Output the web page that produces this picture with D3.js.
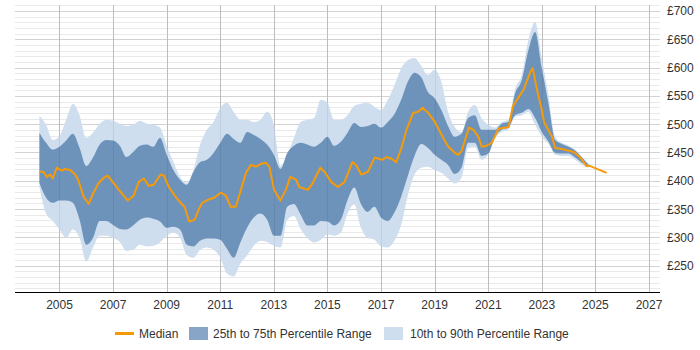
<!DOCTYPE html>
<html><head><meta charset="utf-8">
<script src="https://cdn.jsdelivr.net/npm/d3@7"></script>
<style>body{margin:0;background:#fff}svg{display:block}text{font-family:"Liberation Sans",Arial,sans-serif;font-size:12px;fill:#333}</style>
</head><body><svg id="c" width="700" height="350"></svg>
<script>
const xTicks = [2005,2007,2009,2011,2013,2015,2017,2019,2021,2023,2025,2027];
const yTicks = [250,300,350,400,450,500,550,600,650,700];
const yTickLabels = ["£250","£300","£350","£400","£450","£500","£550","£600","£650","£700"];
const legendLabels = ["Median","25th to 75th Percentile Range","10th to 90th Percentile Range"];

const bandYears = [2004.25,2004.5,2004.75,2005,2005.25,2005.5,2005.75,2006,2006.25,2006.5,
2006.75,2007,2007.25,2007.5,2007.75,2008,2008.25,2008.5,2008.75,2009,
2009.25,2009.5,2009.75,2010,2010.25,2010.5,2010.75,2011,2011.25,2011.5,
2011.75,2012,2012.25,2012.5,2012.75,2013,2013.25,2013.5,2013.75,2014,
2014.25,2014.5,2014.75,2015,2015.25,2015.5,2015.75,2016,2016.25,2016.5,
2016.75,2017,2017.25,2017.5,2017.75,2018,2018.25,2018.5,2018.75,2019,
2019.25,2019.5,2019.75,2020,2020.25,2020.5,2020.75,2021,2021.25,2021.5,
2021.75,2022,2022.25,2022.5,2022.75,2023,2023.25,2023.5,2023.75,2024,
2024.25,2024.5,2024.75];

const p90 = [515,499,472,479,508,536,516,476,485,501,
508,506,501,497,499,506,501,499,494,462,
433,407,396,419,464,490,504,529,538,522,
508,508,504,508,522,499,426,446,476,504,
508,511,543,538,508,508,516,532,536,538,
531,525,543,569,599,613,617,603,587,596,
575,522,495,486,522,534,511,499,494,504,
508,562,587,649,681,617,550,478,467,462,
455,442,430];

const p75 = [485,467,455,460,471,483,458,426,441,464,
472,471,462,442,451,462,464,460,476,446,
419,402,393,416,433,437,449,467,483,474,
467,486,481,474,464,446,421,449,462,467,
464,460,467,478,462,469,485,502,495,497,
501,494,504,518,543,575,591,583,557,546,
525,497,478,483,511,516,490,490,490,501,
504,554,578,631,663,599,536,472,465,460,
453,441,428];

const p25 = [396,370,361,365,365,361,331,287,299,329,
329,322,315,314,321,331,335,333,328,317,
319,314,287,284,294,298,298,296,280,264,
291,317,335,342,331,303,303,354,359,340,
321,321,329,328,321,331,366,388,359,345,
354,335,329,344,372,409,444,465,458,446,
437,428,412,423,467,467,444,448,478,490,
494,516,520,527,511,486,469,449,448,448,
441,432,425];

const p10 = [389,342,329,314,299,314,299,257,282,303,
303,299,292,276,278,287,284,285,291,303,
308,299,269,264,278,282,278,264,236,231,
254,268,285,294,292,285,282,331,338,315,
299,291,296,305,303,308,342,358,317,299,
296,284,282,294,322,374,411,423,425,419,
414,404,395,405,458,460,437,446,474,486,
490,513,516,522,499,478,465,446,444,444,
437,428,423];

const medianYears = [2004.25,2004.40,2004.52,2004.65,2004.75,2004.90,2005.09,2005.21,2005.40,2005.59,
2005.71,2005.90,2006.09,2006.27,2006.46,2006.65,2006.80,2007.02,2007.27,2007.55,
2007.77,2007.96,2008.15,2008.33,2008.52,2008.77,2008.90,2009.08,2009.33,2009.58,
2009.67,2009.84,2010.04,2010.21,2010.33,2010.52,2010.77,2011.02,2011.21,2011.39,
2011.58,2011.77,2011.96,2012.14,2012.33,2012.52,2012.70,2012.83,2013.01,2013.24,
2013.45,2013.61,2013.83,2013.95,2014.27,2014.45,2014.73,2014.89,2015.14,2015.39,
2015.64,2015.93,2016.07,2016.26,2016.51,2016.76,2017.05,2017.20,2017.39,2017.57,
2017.76,2017.95,2018.20,2018.39,2018.55,2018.76,2019.01,2019.26,2019.51,2019.76,
2019.88,2020.01,2020.28,2020.45,2020.63,2020.76,2020.94,2021.13,2021.38,2021.76,
2021.92,2022.32,2022.57,2022.66,2022.82,2023.00,2023.08,2023.38,2023.50,2023.75,
2024.19,2024.44,2024.67,2024.81,2025.42];

const medianValues = [416,416,407,411,404,423,418,421,419,411,
400,372,359,379,396,405,409,396,381,365,
374,398,404,391,393,411,409,389,372,358,
354,328,331,351,361,366,370,379,374,354,
354,384,414,428,425,430,432,425,384,365,
384,407,402,389,384,396,423,416,398,389,
398,433,428,411,416,441,437,442,439,433,
458,490,520,522,529,520,504,481,460,449,
446,453,494,490,478,460,462,467,492,495,
532,561,592,599,561,525,504,478,458,456,
451,441,426,426,414];

(function () {
const plotL = 15, plotR = 660, plotT = 5, plotB = 292;
const svg = d3.select("#c");
const x = d3.scaleLinear().domain([2003.34, 2027.41]).range([plotL, plotR]);
const y = d3.scaleLinear().domain([203.5, 710.6]).range([plotB, plotT]);

const gridG = svg.append("g");
const minor = d3.range(210, 711, 10).filter(v => v % 50 !== 0);
gridG.selectAll("line.minor").data(minor).join("line")
  .attr("x1", plotL).attr("x2", plotR)
  .attr("y1", d => Math.round(y(d)) + 0.5).attr("y2", d => Math.round(y(d)) + 0.5)
  .attr("stroke", "#e9e9e9").attr("stroke-width", 1);
gridG.selectAll("line.major").data(yTicks).join("line")
  .attr("x1", plotL).attr("x2", plotR)
  .attr("y1", d => Math.round(y(d)) + 0.5).attr("y2", d => Math.round(y(d)) + 0.5)
  .attr("stroke", "#d2d2d2").attr("stroke-width", 1);
gridG.selectAll("line.vert").data(xTicks).join("line")
  .attr("x1", d => Math.round(x(d)) + 0.5).attr("x2", d => Math.round(x(d)) + 0.5)
  .attr("y1", plotT).attr("y2", plotB)
  .attr("stroke", "#cccccc").attr("stroke-width", 1);

const bands = bandYears.map((yr, i) => ({yr, p10: p10[i], p25: p25[i], p75: p75[i], p90: p90[i]}));
const area = (lo, hi) => d3.area().x(d => x(d.yr)).y0(d => y(d[lo])).y1(d => y(d[hi])).curve(d3.curveMonotoneX);

const lightFill = "#cfdeee";
const darkFill = "#6e93bb";
const darkLegend = "#88a5c7";
const medColor = "#f79a07";

svg.append("path").datum(bands).attr("d", area("p10", "p90")).attr("fill", lightFill);
svg.append("path").datum(bands).attr("d", area("p25", "p75")).attr("fill", darkFill);

svg.append("g").selectAll("line").data(xTicks).join("line")
  .attr("x1", d => Math.round(x(d)) + 0.5).attr("x2", d => Math.round(x(d)) + 0.5)
  .attr("y1", plotT).attr("y2", plotB)
  .attr("stroke", "rgba(0,0,0,0.07)").attr("stroke-width", 1);

const med = medianYears.map((yr, i) => ({yr, v: medianValues[i]}));
svg.append("path").datum(med)
  .attr("d", d3.line().x(d => x(d.yr)).y(d => y(d.v)))
  .attr("fill", "none").attr("stroke", medColor).attr("stroke-width", 2).attr("stroke-linejoin", "round");

svg.append("line").attr("x1", plotL).attr("x2", plotR).attr("y1", plotB + 0.5).attr("y2", plotB + 0.5)
  .attr("stroke", "#000").attr("stroke-width", 1);

svg.selectAll("text.xl").data(xTicks).join("text")
  .attr("x", d => x(d)).attr("y", 308.5).attr("text-anchor", "middle").text(d => String(d));

svg.selectAll("text.yl").data(yTicks).join("text")
  .attr("x", 667).attr("y", d => y(d) + 4.5).attr("text-anchor", "start").text((d, i) => yTickLabels[i]);

const lg = svg.append("g");
lg.append("line").attr("x1", 115).attr("x2", 134).attr("y1", 333.5).attr("y2", 333.5)
  .attr("stroke", medColor).attr("stroke-width", 3);
lg.append("text").attr("x", 139).attr("y", 338).text(legendLabels[0]);
lg.append("rect").attr("x", 189).attr("y", 327).attr("width", 19).attr("height", 13).attr("fill", darkLegend);
lg.append("text").attr("x", 213).attr("y", 338).text(legendLabels[1]);
lg.append("rect").attr("x", 384).attr("y", 327).attr("width", 19).attr("height", 13).attr("fill", lightFill);
lg.append("text").attr("x", 410).attr("y", 338).text(legendLabels[2]);
})();
</script></body></html>
